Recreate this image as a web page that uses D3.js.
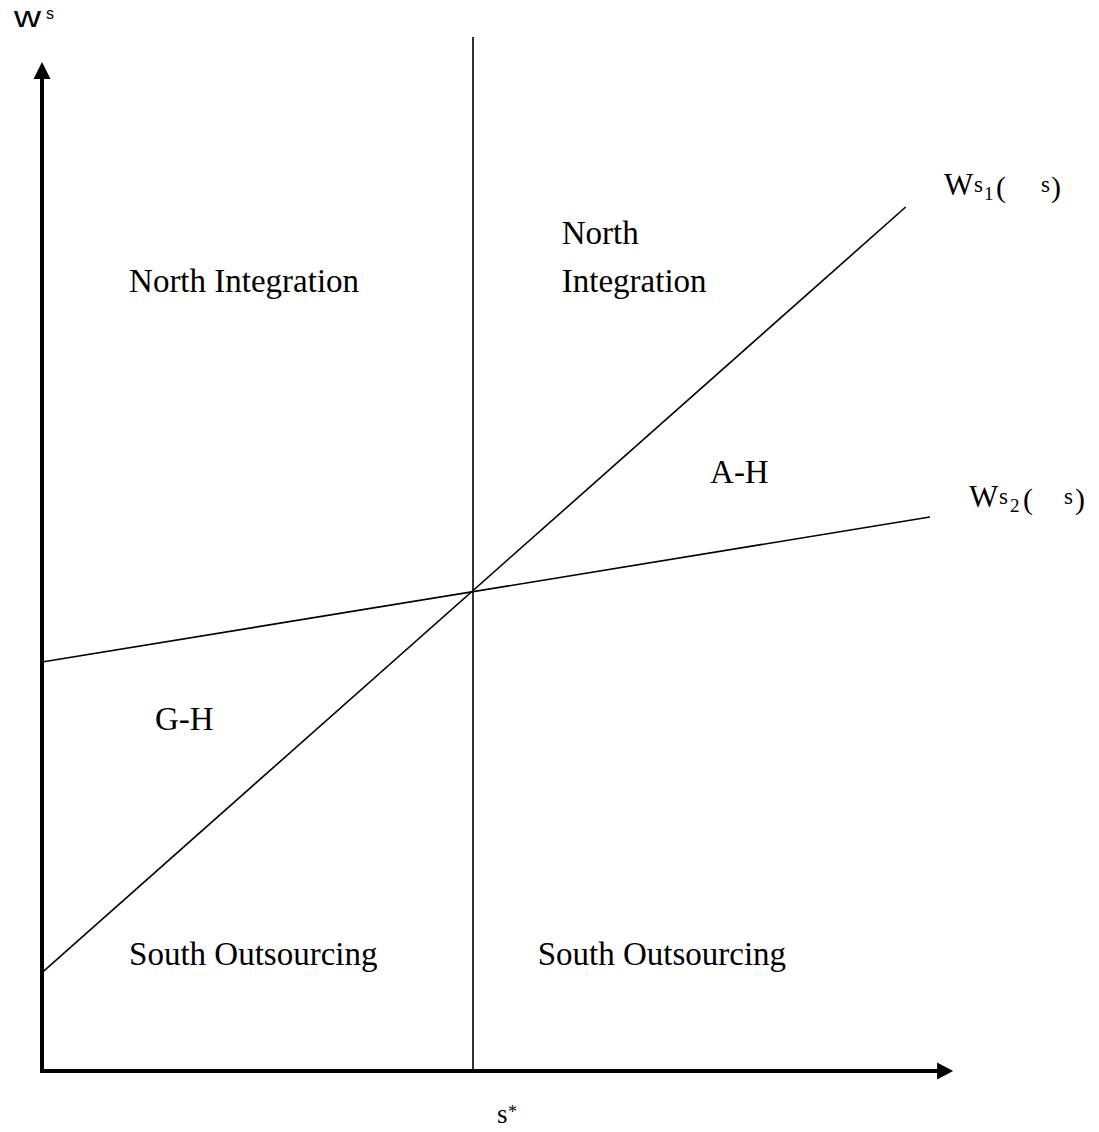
<!DOCTYPE html>
<html>
<head>
<meta charset="utf-8">
<script src="https://cdn.jsdelivr.net/npm/d3@7"></script>
<style>
  html, body { margin: 0; padding: 0; background: #fff; }
  svg { display: block; }
</style>
</head>
<body>
<div id="chart"></div>
<script>
// ---------- data (in model units) ----------
const xDomain = [0, 10];
const yDomain = [0, 20];
const sStar = 5;
const xAxisEnd = 10.57;
const yAxisEnd = 21.02;
const sStarLineTop = 21.54;

// W^s_1(θs) : steep line
const line1X = [0, 10.02];
const line1Y = [2.05, 18.0];
// W^s_2(θs) : flat line
const line2X = [0, 10.3];
const line2Y = [8.52, 11.54];

const regionLabels = ["North Integration", "North", "Integration", "A-H", "G-H", "South Outsourcing", "South Outsourcing"];
const axisLabels = ["w", "s", "s", "*"];

// ---------- drawing ----------
const W = 1099, H = 1132;
const svg = d3.select("#chart").append("svg").attr("width", W).attr("height", H);

const x = d3.scaleLinear().domain(xDomain).range([42, 904]);
const y = d3.scaleLinear().domain(yDomain).range([1071, 111]);

const line = d3.line().x(d => x(d[0])).y(d => y(d[1]));
const zip = (a, b) => a.map((v, i) => [v, b[i]]);

// thin lines
svg.append("path").attr("d", line(zip(line1X, line1Y)))
  .attr("fill", "none").attr("stroke", "#000").attr("stroke-width", 1.6);
svg.append("path").attr("d", line(zip(line2X, line2Y)))
  .attr("fill", "none").attr("stroke", "#000").attr("stroke-width", 1.6);
svg.append("path").attr("d", line([[sStar, 0], [sStar, sStarLineTop]]))
  .attr("fill", "none").attr("stroke", "#000").attr("stroke-width", 1.6);

// axes (thick)
const x0 = x(0), y0 = y(0);
const xt = x(xAxisEnd), yt = y(yAxisEnd);
svg.append("line").attr("x1", x0 - 2).attr("y1", y0).attr("x2", xt - 14).attr("y2", y0)
  .attr("stroke", "#000").attr("stroke-width", 4);
svg.append("line").attr("x1", x0).attr("y1", y0 + 2).attr("x2", x0).attr("y2", yt + 14)
  .attr("stroke", "#000").attr("stroke-width", 4);
// arrowheads
svg.append("path")
  .attr("d", `M${xt},${y0} L${xt - 16},${y0 - 8.5} L${xt - 16},${y0 + 8.5} Z`)
  .attr("fill", "#000");
svg.append("path")
  .attr("d", `M${x0},${yt} L${x0 - 8.5},${yt + 17} L${x0 + 8.5},${yt + 17} Z`)
  .attr("fill", "#000");

// axis labels
const sans = "'Liberation Sans', Arial, sans-serif";
const serif = "'Liberation Serif', 'Times New Roman', serif";
svg.append("text").attr("x", 14).attr("y", 27).attr("font-family", sans)
  .attr("font-size", 29).attr("textLength", 27).attr("lengthAdjust", "spacingAndGlyphs")
  .text(axisLabels[0]);
svg.append("text").attr("x", 46).attr("y", 19).attr("font-family", sans)
  .attr("font-size", 16).text(axisLabels[1]);
svg.append("text").attr("x", x(sStar) + 24).attr("y", 1123).attr("font-family", serif)
  .attr("font-size", 27).text(axisLabels[2]);
svg.append("text").attr("x", x(sStar) + 35).attr("y", 1118).attr("font-family", serif)
  .attr("font-size", 18).text(axisLabels[3]);

// region labels
const place = [
  [1.01, 16.23], [6.03, 17.23], [6.03, 16.23], [7.75, 12.25], [1.31, 7.1], [1.01, 2.21], [5.75, 2.21]
];
regionLabels.forEach((t, i) => {
  svg.append("text").attr("x", x(place[i][0])).attr("y", y(place[i][1]))
    .attr("font-family", serif).attr("font-size", 33).attr("fill", "#000").text(t);
});

// curve labels W^s_k(  s)
function curveLabel(k, xs, base) {
  const g = svg.append("g").attr("font-family", serif).attr("fill", "#000");
  g.append("text").attr("x", xs[0]).attr("y", base).attr("font-size", 31).text("W");
  g.append("text").attr("x", xs[1]).attr("y", base - 3).attr("font-size", 23).text("s");
  g.append("text").attr("x", xs[2]).attr("y", base + 5).attr("font-size", 19).text(String(k));
  g.append("text").attr("x", xs[3]).attr("y", base + 2).attr("font-size", 30).text("(");
  g.append("text").attr("x", xs[4]).attr("y", base - 3).attr("font-size", 23).text("s");
  g.append("text").attr("x", xs[5]).attr("y", base + 2).attr("font-size", 30).text(")");
}
curveLabel(1, [944, 974, 984, 996, 1041, 1051], 195);
curveLabel(2, [969, 999, 1010, 1023, 1064, 1075], 507);
</script>
</body>
</html>
